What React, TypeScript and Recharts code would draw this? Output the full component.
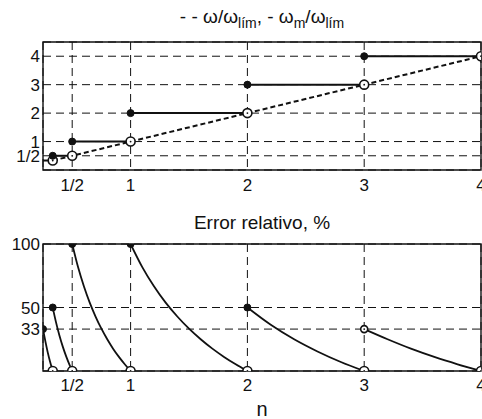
import React from 'react';
import { LineChart, Line, XAxis, YAxis, CartesianGrid, ReferenceArea } from 'recharts';

// eje n y marcas
const nTicks = [0.5, 1, 2, 3, 4];
const levelTicks = [0.5, 1, 2, 3, 4];
const errTicks = [33, 50, 100];

// w/w_lim (recta discontinua)
const ratioN = [0.3333, 4];
const ratioV = [0.3333, 4];

// w_m/w_lim (escalones)
const stepN = [[0.25, 0.3333], [0.3333, 0.5], [0.5, 1], [1, 2], [2, 3], [3, 4]];
const stepLevels = [0.3333, 0.5, 1, 2, 3, 4];

// error relativo, % (tramos)
const errN = [
    [0.25, 0.27, 0.29, 0.31, 0.3333],
    [0.3333, 0.36, 0.39, 0.42, 0.45, 0.48, 0.5],
    [0.5, 0.55, 0.6, 0.65, 0.7, 0.75, 0.8, 0.85, 0.9, 0.95, 1],
    [1, 1.1, 1.2, 1.3, 1.4, 1.5, 1.6, 1.7, 1.8, 1.9, 2],
    [2, 2.2, 2.4, 2.6, 2.8, 3],
    [3, 3.2, 3.4, 3.6, 3.8, 4],
];
const errV = [
    [33, 23.5, 14.9, 7.5, 0],
    [50, 38.9, 28.2, 19, 11.1, 4.2, 0],
    [100, 81.8, 66.7, 53.8, 42.9, 33.3, 25, 17.6, 11.1, 5.3, 0],
    [100, 81.8, 66.7, 53.8, 42.9, 33.3, 25, 17.6, 11.1, 5.3, 0],
    [50, 36.4, 25, 15.4, 7.1, 0],
    [33, 25, 17.6, 11.1, 5.3, 0],
];

const FONT = '"Liberation Sans", Arial, sans-serif';
const INK = '#111';

const fracLabel = (v: number) => (v === 0.5 ? '1/2' : String(v));

const toRows = (ns: number[], vs: number[]) => ns.map((n, i) => ({ n, v: vs[i] }));

// etiquetas de los ejes con fuente explícita
const XTick = (props: any) => {
    const { x, y, payload } = props;
    return (
        <text x={x} y={y + 19} textAnchor="middle" style={{ fontFamily: FONT, fontSize: 17, fill: INK }}>
            {fracLabel(payload.value)}
        </text>
    );
};
const YTick = (props: any) => {
    const { x, y, payload } = props;
    return (
        <text x={x} y={y + 6} textAnchor="end" style={{ fontFamily: FONT, fontSize: 17, fill: INK }}>
            {fracLabel(payload.value)}
        </text>
    );
};

const segmentDot = (last: number, firstKind: 'filled' | 'open' | 'none') => (props: any) => {
    const { cx, cy, index } = props;
    const key = `d-${index}-${cx}`;
    if (index === 0 && firstKind === 'filled') {
        return <circle key={key} cx={cx} cy={cy} r={3.5} fill={INK} stroke={INK} />;
    }
    if ((index === 0 && firstKind === 'open') || index === last) {
        return (
            <g key={key}>
                <circle cx={cx} cy={cy} r={index === last ? 4.5 : 3.5} fill="#fff" stroke={INK} strokeWidth={1.6} />
                <circle cx={cx} cy={cy} r={0.9} fill={INK} />
            </g>
        );
    }
    return <g key={key} />;
};

const App: React.FC = () => {
    return (
        <div style={{ position: 'absolute', left: 0, top: 0, width: 482, height: 419, overflow: 'hidden', background: '#fff', fontFamily: FONT, color: INK }}>
            <div style={{ position: 'absolute', left: 43, width: 438, top: 6, textAlign: 'center', fontSize: 19, lineHeight: '22px' }}>
                - - ω/ω<sub style={{ fontSize: 14 }}>lím</sub>, - ω<sub style={{ fontSize: 14 }}>m</sub>/ω<sub style={{ fontSize: 14 }}>lím</sub>
            </div>
            <div style={{ position: 'absolute', left: 0, top: 0 }}>
                <LineChart width={482} height={200} margin={{ top: 42, right: 1, bottom: 0, left: 0 }}>
                    <CartesianGrid stroke={INK} strokeDasharray="8 5" strokeWidth={1} />
                    <XAxis type="number" dataKey="n" domain={[0.25, 4]} ticks={nTicks}
                        allowDataOverflow axisLine={false} tickLine={false} tickSize={0} tickMargin={2} height={30}
                        tick={<XTick />} interval={0} />
                    <YAxis type="number" domain={[0, 4.5]} ticks={levelTicks}
                        allowDataOverflow axisLine={false} tickLine={false} tickSize={0} tickMargin={3} width={43}
                        tick={<YTick />} interval={0} />
                    <ReferenceArea x1={0.25} x2={4} y1={0} y2={4.5} fill="none" stroke={INK} strokeWidth={1.4} />
                    <Line data={toRows(ratioN, ratioV)} dataKey="v" type="linear" stroke={INK} strokeWidth={2}
                        strokeDasharray="5 3" dot={false} activeDot={false} isAnimationActive={false} />
                    {stepN.map((ns, i) => (
                        <Line key={`step-${i}`} data={toRows(ns, [stepLevels[i], stepLevels[i]])} dataKey="v" type="linear"
                            stroke={INK} strokeWidth={2} dot={segmentDot(1, i === 0 ? 'none' : 'filled')}
                            activeDot={false} isAnimationActive={false} />
                    ))}
                </LineChart>
            </div>
            <div style={{ position: 'absolute', left: 43, width: 438, top: 212, textAlign: 'center', fontSize: 19, lineHeight: '22px' }}>
                Error relativo, %
            </div>
            <div style={{ position: 'absolute', left: 0, top: 200 }}>
                <LineChart width={482} height={201} margin={{ top: 44, right: 1, bottom: 0, left: 0 }}>
                    <CartesianGrid stroke={INK} strokeDasharray="8 5" strokeWidth={1} />
                    <XAxis type="number" dataKey="n" domain={[0.25, 4]} ticks={nTicks}
                        allowDataOverflow axisLine={false} tickLine={false} tickSize={0} tickMargin={1} height={30}
                        tick={<XTick />} interval={0} />
                    <YAxis type="number" domain={[0, 100]} ticks={errTicks}
                        allowDataOverflow axisLine={false} tickLine={false} tickSize={0} tickMargin={3} width={43}
                        tick={<YTick />} interval={0} />
                    <ReferenceArea x1={0.25} x2={4} y1={0} y2={100} fill="none" stroke={INK} strokeWidth={1.4} />
                    {errN.map((ns, i) => (
                        <Line key={`err-${i}`} data={toRows(ns, errV[i])} dataKey="v" type="monotone"
                            stroke={INK} strokeWidth={1.8} dot={segmentDot(ns.length - 1, i === 5 ? 'open' : 'filled')}
                            activeDot={false} isAnimationActive={false} />
                    ))}
                </LineChart>
            </div>
            <div style={{ position: 'absolute', left: 43, width: 438, top: 399, textAlign: 'center', fontSize: 20, lineHeight: '20px' }}>
                n
            </div>
        </div>
    );
};

export default App;
